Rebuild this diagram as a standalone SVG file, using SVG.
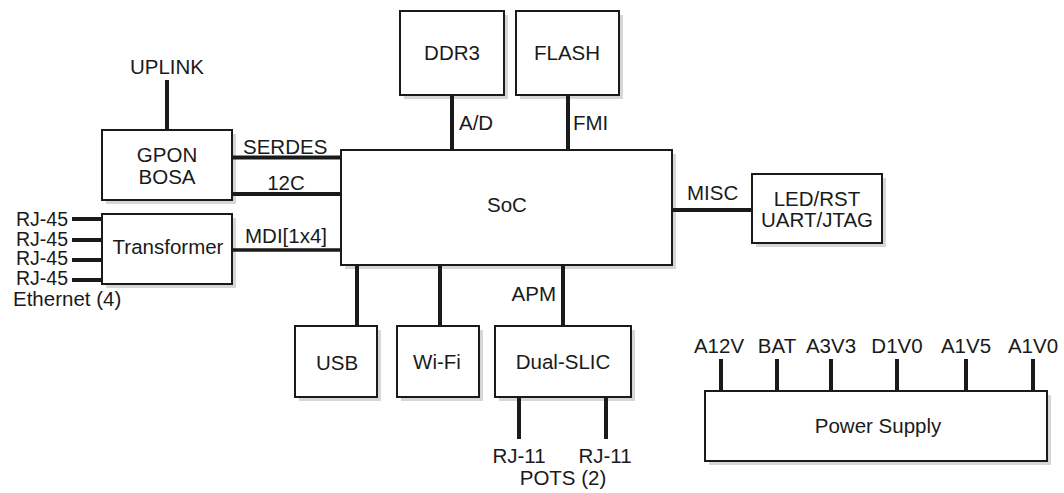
<svg xmlns="http://www.w3.org/2000/svg" width="1064" height="493" viewBox="0 0 1064 493">
<style>
text{font-family:"Liberation Sans",Arial,sans-serif;font-size:20.5px;fill:#1a1a1a}
.m{text-anchor:middle}
.e{text-anchor:end}
.rj{font-size:19.5px}
.box{fill:#fff;stroke:#1a1a1a;stroke-width:2}
.sh{fill:#d6d6d6}
.c{stroke:#1a1a1a;stroke-width:4;fill:none}
</style>
<rect width="1064" height="493" fill="#fff"/>
<g id="shadows">
<rect class="sh" x="106" y="134" width="130" height="70"/>
<rect class="sh" x="106" y="218" width="130" height="70"/>
<rect class="sh" x="345" y="154" width="331" height="115"/>
<rect class="sh" x="404" y="15" width="104" height="84"/>
<rect class="sh" x="520" y="15" width="103" height="84"/>
<rect class="sh" x="756" y="178" width="130" height="69"/>
<rect class="sh" x="299" y="330" width="82" height="71"/>
<rect class="sh" x="401" y="330" width="82" height="71"/>
<rect class="sh" x="499" y="330" width="136" height="71"/>
<rect class="sh" x="709" y="395" width="342" height="70"/>
</g>
<g id="connectors">
<line class="c" x1="167" y1="80" x2="167" y2="130"/>
<line class="c" x1="232" y1="157.5" x2="341" y2="157.5"/>
<line class="c" x1="232" y1="194" x2="341" y2="194"/>
<line class="c" x1="232" y1="250" x2="341" y2="250" style="stroke-width:3.5"/>
<line class="c" x1="72" y1="219" x2="102" y2="219"/>
<line class="c" x1="72" y1="240" x2="102" y2="240"/>
<line class="c" x1="72" y1="260" x2="102" y2="260"/>
<line class="c" x1="72" y1="280" x2="102" y2="280"/>
<line class="c" x1="452" y1="95" x2="452" y2="150"/>
<line class="c" x1="568" y1="95" x2="568" y2="150"/>
<line class="c" x1="672" y1="210" x2="752" y2="210"/>
<line class="c" x1="357" y1="265" x2="357" y2="326"/>
<line class="c" x1="440" y1="265" x2="440" y2="326"/>
<line class="c" x1="563" y1="265" x2="563" y2="326"/>
<line class="c" x1="519" y1="397" x2="519" y2="439"/>
<line class="c" x1="606" y1="397" x2="606" y2="439"/>
<line class="c" x1="721" y1="359" x2="721" y2="391"/>
<line class="c" x1="777" y1="359" x2="777" y2="391"/>
<line class="c" x1="831" y1="359" x2="831" y2="391"/>
<line class="c" x1="897" y1="359" x2="897" y2="391"/>
<line class="c" x1="966" y1="359" x2="966" y2="391"/>
<line class="c" x1="1033" y1="359" x2="1033" y2="391"/>
</g>
<g id="labels">
<text class="m" x="167" y="74">UPLINK</text>
<text x="243" y="154">SERDES</text>
<text class="m" x="286" y="190">12C</text>
<text x="245" y="243">MDI[1x4]</text>
<text class="e rj" x="68" y="226">RJ-45</text>
<text class="e rj" x="68" y="246">RJ-45</text>
<text class="e rj" x="68" y="265">RJ-45</text>
<text class="e rj" x="68" y="285">RJ-45</text>
<text x="13" y="306">Ethernet (4)</text>
<text x="459" y="130">A/D</text>
<text x="573" y="130">FMI</text>
<text x="687" y="200">MISC</text>
<text class="e" x="556" y="301">APM</text>
<text class="m" x="519" y="463">RJ-11</text>
<text class="m" x="605" y="463">RJ-11</text>
<text class="m" x="563" y="485">POTS (2)</text>
<text class="m" x="719" y="353">A12V</text>
<text class="m" x="777" y="353">BAT</text>
<text class="m" x="831" y="353">A3V3</text>
<text class="m" x="897" y="353">D1V0</text>
<text class="m" x="966" y="353">A1V5</text>
<text class="m" x="1033" y="353">A1V0</text>
</g>
<g id="gpon"><rect class="box" x="102" y="130" width="130" height="70"/><text class="m" x="167" y="162">GPON</text><text class="m" x="167" y="184">BOSA</text></g>
<g id="transformer"><rect class="box" x="102" y="214" width="130" height="70"/><text class="m" x="168" y="254">Transformer</text></g>
<g id="soc"><rect class="box" x="341" y="150" width="331" height="115"/><text class="m" x="507" y="212">SoC</text></g>
<g id="ddr3"><rect class="box" x="400" y="11" width="104" height="84"/><text class="m" x="452" y="60">DDR3</text></g>
<g id="flash"><rect class="box" x="516" y="11" width="103" height="84"/><text class="m" x="567" y="60">FLASH</text></g>
<g id="led"><rect class="box" x="752" y="174" width="130" height="69"/><text class="m" x="817" y="206">LED/RST</text><text class="m" x="817" y="227">UART/JTAG</text></g>
<g id="usb"><rect class="box" x="295" y="326" width="82" height="71"/><text class="m" x="337" y="370">USB</text></g>
<g id="wifi"><rect class="box" x="397" y="326" width="82" height="71"/><text class="m" x="437" y="369">Wi-Fi</text></g>
<g id="slic"><rect class="box" x="495" y="326" width="136" height="71"/><text class="m" x="563" y="369">Dual-SLIC</text></g>
<g id="power"><rect class="box" x="705" y="391" width="342" height="70"/><text class="m" x="878" y="433">Power Supply</text></g>
</svg>
